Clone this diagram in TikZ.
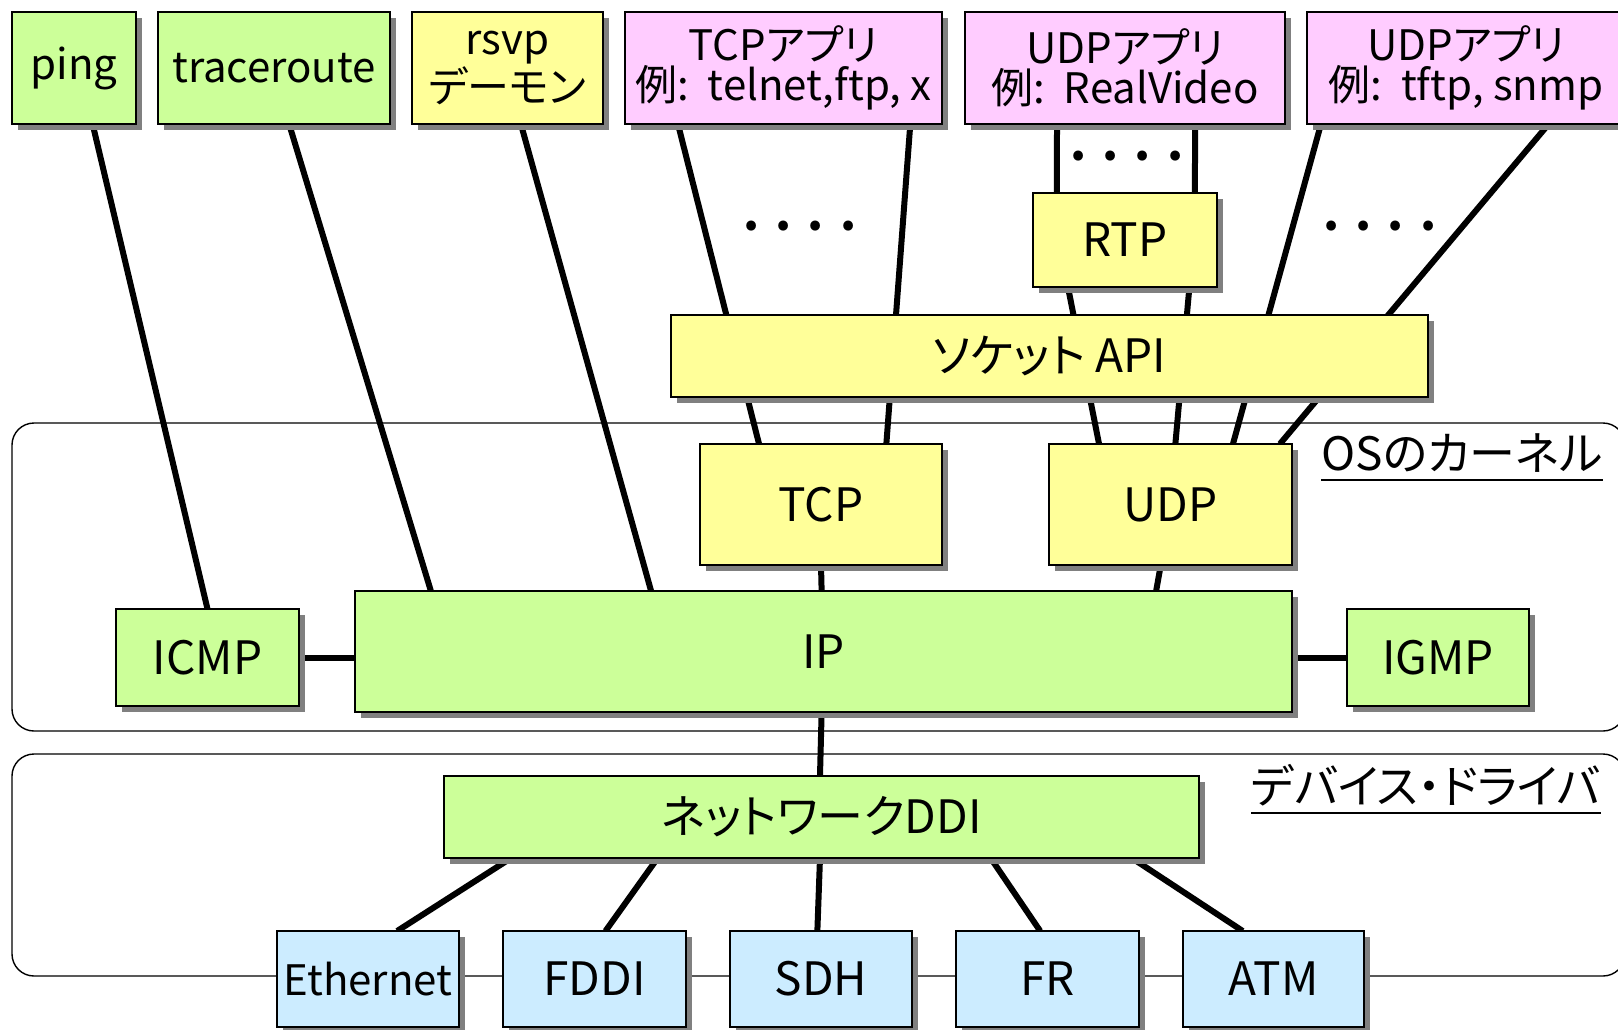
\documentclass[tikz,border=0pt]{standalone}
\usepackage{fontspec}
\setmainfont{Noto Sans CJK JP}[RawFeature=+palt]
\usetikzlibrary{shadows,calc}
\definecolor{cgreen}{HTML}{CCFF99}
\definecolor{cyellow}{HTML}{FFFF99}
\definecolor{cpink}{HTML}{FFCCFF}
\definecolor{cblue}{HTML}{CCECFF}
\pgfdeclarelayer{bg}
\pgfsetlayers{bg,main}
\newcommand\mkbox[7]{\node[#6,anchor=north west,minimum width={(#4-#2)*0.5pt},minimum height={(#5-#3)*0.5pt}] (#1) at (#2,#3) {#7};}
\begin{document}
\begin{tikzpicture}[x=0.5pt,y=-0.5pt,
  box/.style={draw=black, line width=0.8pt, inner sep=0pt, outer sep=0pt, align=center,
    drop shadow={shadow xshift=3pt, shadow yshift=-3pt, fill=black!50, opacity=1}},
  gbox/.style={box, fill=cgreen},
  ybox/.style={box, fill=cyellow},
  pbox/.style={box, fill=cpink},
  bbox/.style={box, fill=cblue},
  topf/.style={font=\fontsize{21}{22}\selectfont},
  midf/.style={font=\fontsize{23}{26}\selectfont},
  smf/.style={font=\fontsize{21}{24}\selectfont},
  conn/.style={line width=3pt},
  frame/.style={line width=0.7pt, rounded corners=11pt},
  lbl/.style={inner sep=0pt, font=\fontsize{23}{26}\selectfont},
  dots/.style={inner sep=0pt, font=\bfseries\fontsize{23}{26}\selectfont}]
\useasboundingbox (0,0) rectangle (1618,1029);
% boxes
\mkbox{ping}{12}{12}{136}{124}{gbox,topf}{ping}
\mkbox{trace}{158}{12}{390}{124}{gbox,topf}{traceroute}
\mkbox{rsvp}{412}{12}{603}{124}{ybox,topf}{\raisebox{-2pt}{rsvp}\\デーモン}
\mkbox{tcpapp}{625}{12}{942}{124}{pbox,topf}{\raisebox{-2pt}{TCPアプリ}\\例:\ \ telnet,ftp, x}
\mkbox{udpappa}{965}{12}{1285}{124}{pbox,topf}{\raisebox{-2pt}{UDPアプリ}\\例:\ \ RealVideo}
\mkbox{udpappb}{1307}{12}{1625}{124}{pbox,topf}{\raisebox{-2pt}{UDPアプリ}\\例:\ \ tftp, snmp}
\mkbox{rtp}{1033}{193}{1217}{287}{ybox,midf}{RTP}
\mkbox{sock}{671}{315}{1428}{397}{ybox,midf}{ソケット API}
\mkbox{tcp}{700}{444}{942}{565}{ybox,midf}{TCP}
\mkbox{udp}{1049}{444}{1292}{565}{ybox,midf}{UDP}
\mkbox{icmp}{116}{609}{299}{706}{gbox,midf}{ICMP}
\mkbox{ip}{355}{591}{1292}{712}{gbox,midf}{IP}
\mkbox{igmp}{1347}{609}{1529}{706}{gbox,midf}{IGMP}
\mkbox{ddi}{444}{776}{1199}{858}{gbox,midf}{ネットワークDDI}
\mkbox{eth}{277}{931}{459}{1027}{bbox,smf}{Ethernet}
\mkbox{fddi}{503}{931}{686}{1027}{bbox,midf}{FDDI}
\mkbox{sdh}{730}{931}{912}{1027}{bbox,midf}{SDH}
\mkbox{fr}{956}{931}{1139}{1027}{bbox,midf}{FR}
\mkbox{atm}{1183}{931}{1364}{1027}{bbox,midf}{ATM}
% labels
\node[lbl, anchor=base west] (oslbl) at (1321,470) {OSのカーネル};
\draw[line width=0.7pt] ([yshift=-5pt]oslbl.base west) -- ([yshift=-5pt]oslbl.base east);
\node[lbl, anchor=base west] (drvlbl) at (1251,803) {デバイス・ドライバ};
\draw[line width=0.7pt] ([yshift=-5pt]drvlbl.base west) -- ([yshift=-5pt]drvlbl.base east);
\node[dots] (d1) at (800,226) {.\hspace{8pt}.\hspace{8pt}.\hspace{8pt}.};
\node[dots] (d2) at (1127,156) {.\hspace{8pt}.\hspace{8pt}.\hspace{8pt}.};
\node[dots] (d3) at (1380,226) {.\hspace{8pt}.\hspace{8pt}.\hspace{8pt}.};
\begin{pgfonlayer}{bg}
\fill[white] (0,0) rectangle (1618,1029);
\draw[frame] (12,423) rectangle (1625,731);
\draw[frame] (12,754) rectangle (1625,976);
% connectors
\draw[conn] ($(ping.south west)!.65!(ping.south east)$) -- (icmp.north);
\draw[conn] ($(trace.south west)!.565!(trace.south east)$) -- ($(ip.north west)!.081!(ip.north east)$);
\draw[conn] ($(rsvp.south west)!.57!(rsvp.south east)$) -- ($(ip.north west)!.316!(ip.north east)$);
\draw[conn] ($(tcpapp.south west)!.167!(tcpapp.south east)$) -- ($(tcp.north west)!.244!(tcp.north east)$);
\draw[conn] ($(tcpapp.south west)!.9!(tcpapp.south east)$) -- ($(tcp.north west)!.77!(tcp.north east)$);
\draw[conn] ($(udpappa.south west)!.2875!(udpappa.south east)$) -- ($(rtp.north west)!.13!(rtp.north east)$);
\draw[conn] ($(udpappa.south west)!.719!(udpappa.south east)$) -- ($(rtp.north west)!.88!(rtp.north east)$);
\draw[conn] ($(rtp.south west)!.19!(rtp.south east)$) -- ($(udp.north west)!.206!(udp.north east)$);
\draw[conn] ($(rtp.south west)!.85!(rtp.south east)$) -- ($(udp.north west)!.52!(udp.north east)$);
\draw[conn] ($(udpappb.south west)!.044!(udpappb.south east)$) -- ($(udp.north west)!.757!(udp.north east)$);
\draw[conn] ($(udpappb.south west)!.76!(udpappb.south east)$) -- ($(udp.north west)!.95!(udp.north east)$);
\draw[conn] (tcp.south) -- ($(ip.north west)!.498!(ip.north east)$);
\draw[conn] ($(udp.south west)!.46!(udp.south east)$) -- ($(ip.north west)!.855!(ip.north east)$);
\draw[conn] (icmp.east) -- (icmp.east -| ip.west);
\draw[conn] (igmp.west) -- (igmp.west -| ip.east);
\draw[conn] ($(ip.south west)!.498!(ip.south east)$) -- ($(ddi.north west)!.498!(ddi.north east)$);
\draw[conn] ($(ddi.south west)!.089!(ddi.south east)$) -- ($(eth.north west)!.66!(eth.north east)$);
\draw[conn] ($(ddi.south west)!.283!(ddi.south east)$) -- ($(fddi.north west)!.56!(fddi.north east)$);
\draw[conn] ($(ddi.south west)!.498!(ddi.south east)$) -- ($(sdh.north west)!.48!(sdh.north east)$);
\draw[conn] ($(ddi.south west)!.724!(ddi.south east)$) -- ($(fr.north west)!.46!(fr.north east)$);
\draw[conn] ($(ddi.south west)!.911!(ddi.south east)$) -- ($(atm.north west)!.33!(atm.north east)$);
\end{pgfonlayer}
\end{tikzpicture}
\end{document}
